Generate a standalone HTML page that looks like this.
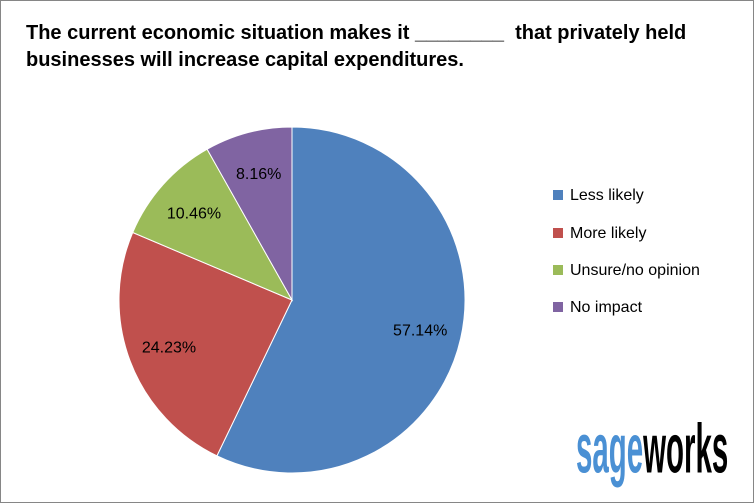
<!DOCTYPE html>
<html><head><meta charset="utf-8"><style>
body{margin:0;background:#fff}
#c{position:relative;width:752px;height:501px;border:1px solid #868686;background:#fff;font-family:"Liberation Sans",sans-serif;overflow:hidden}
#t{position:absolute;left:25px;top:19px;font-size:20px;font-weight:bold;line-height:27px;color:#000;white-space:nowrap}
.lg{position:absolute;left:552px;font-size:16px;color:#000}
.lg span{display:inline-block;width:10px;height:10px;margin-right:7px;vertical-align:0px}
#logo{position:absolute;left:575px;top:413px;font-family:"Liberation Sans",sans-serif;font-weight:bold;font-size:64px;line-height:64px;white-space:nowrap;transform:scale(0.46,1.08);transform-origin:left top}
</style></head><body>
<div id="c">
<div id="t">The current economic situation makes it ________ &nbsp;that privately held<br>businesses will increase capital expenditures.</div>
<svg id="pie" width="752" height="501" style="position:absolute;left:0;top:0"></svg>
<div class="lg" style="top:186px"><span style="background:#4f81bd"></span>Less likely</div>
<div class="lg" style="top:224px"><span style="background:#c0504d"></span>More likely</div>
<div class="lg" style="top:261px"><span style="background:#9bbb59"></span>Unsure/no opinion</div>
<div class="lg" style="top:298px"><span style="background:#8064a2"></span>No impact</div>
<div id="logo"><span style="color:#4a90d4">sage</span><span style="color:#000">works</span></div>
</div>
<script>
const categories=["Less likely","More likely","Unsure/no opinion","No impact"];
const values=[57.14,24.23,10.46,8.16];
const labels=["57.14%","24.23%","10.46%","8.16%"];
const colors=["#4f81bd","#c0504d","#9bbb59","#8064a2"];
const svg=document.getElementById('pie');
const ns="http://www.w3.org/2000/svg";
const cx=291,cy=299,r=173;
const total=values.reduce((a,b)=>a+b,0);
let a0=0;
values.forEach((v,i)=>{
  const a1=a0+v/total*2*Math.PI;
  const p=a=>[cx+r*Math.sin(a),cy-r*Math.cos(a)];
  const [x0,y0]=p(a0),[x1,y1]=p(a1);
  const path=document.createElementNS(ns,'path');
  path.setAttribute('d',`M${cx},${cy}L${x0},${y0}A${r},${r} 0 ${a1-a0>Math.PI?1:0} 1 ${x1},${y1}Z`);
  path.setAttribute('fill',colors[i]);path.setAttribute('stroke','#fff');path.setAttribute('stroke-width','1');
  
  
  svg.appendChild(path);
  const am=(a0+a1)/2,lr=r*0.76;
  const t=document.createElementNS(ns,'text');
  t.setAttribute('x',cx+lr*Math.sin(am));t.setAttribute('y',cy-lr*Math.cos(am)+6);
  t.setAttribute('text-anchor','middle');t.setAttribute('font-size','16');
  t.setAttribute('font-family','Liberation Sans, sans-serif');
  t.textContent=labels[i];
  
  
  svg.appendChild(t);
  a0=a1;
});
</script>
</body></html>
